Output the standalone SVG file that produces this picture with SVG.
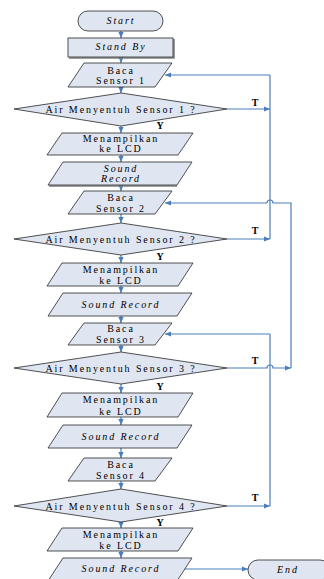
<svg xmlns="http://www.w3.org/2000/svg" width="324" height="579" viewBox="0 0 324 579">
<defs>
<marker id="ah" markerUnits="userSpaceOnUse" markerWidth="6" markerHeight="6" refX="6" refY="3" orient="auto">
<path d="M0,0.4 L6,3 L0,5.6 z" fill="#4a7ebb"/>
</marker>
<style>
.n{fill:#dfe6f2;stroke:#262626;stroke-width:0.8}
.sh{fill:none;stroke:#7f7f7f;stroke-width:1.6}
text{font-family:'Liberation Serif','DejaVu Serif','Times New Roman',serif;font-size:10px;fill:#000000;text-anchor:middle;letter-spacing:1.9px}
.i{font-style:italic}
.b{font-weight:bold;letter-spacing:0px}
.c{fill:none;stroke:#4a7ebb;stroke-width:1.2}
.ca{fill:none;stroke:#4a7ebb;stroke-width:1.2;marker-end:url(#ah)}
</style>
</defs>
<rect width="324" height="579" fill="#ffffff"/>
<g id="connectors">
<path class="ca" d="M121,31 V38"/>
<path class="ca" d="M121,57 V63"/>
<path class="ca" d="M121,87 V93"/>
<path class="ca" d="M121,126 V133"/>
<path class="ca" d="M121,155 V162"/>
<path class="ca" d="M121,185 V191"/>
<path class="ca" d="M121,214 V223"/>
<path class="ca" d="M121,255 V263"/>
<path class="ca" d="M121,286 V293"/>
<path class="ca" d="M121,316 V323"/>
<path class="ca" d="M121,345 V352"/>
<path class="ca" d="M121,384 V393"/>
<path class="ca" d="M121,417 V425"/>
<path class="ca" d="M121,448 V458"/>
<path class="ca" d="M121,481 V489"/>
<path class="ca" d="M121,522 V528"/>
<path class="ca" d="M121,551 V558"/>
<path class="ca" d="M227,109 H270"/>
<path class="ca" d="M227,239 H270"/>
<path class="c" d="M270,239 V75"/>
<path class="ca" d="M270,75 H165"/>
<path class="c" d="M291,368 V203 H273 A3,3 0 0 0 267,203"/>
<path class="ca" d="M267,203 H165"/>
<path class="ca" d="M227,368 H267 A3,3 0 0 1 273,368 H291"/>
<path class="c" d="M270,506 V334"/>
<path class="ca" d="M270,334 H165"/>
<path class="ca" d="M227,506 H270"/>
<path class="ca" d="M185,569 H248"/>
<text class="b" x="255" y="106">T</text>
<text class="b" x="255" y="233.5">T</text>
<text class="b" x="255" y="363.5">T</text>
<text class="b" x="255" y="501">T</text>
<text class="b" x="160" y="128.5">Y</text>
<text class="b" x="160" y="259.5">Y</text>
<text class="b" x="160" y="390">Y</text>
<text class="b" x="160" y="526">Y</text>
</g>
<g id="start">
<rect class="n" x="78" y="11" width="85" height="20" rx="10"/>
<text class="i" x="121" y="24">Start</text>
</g>
<g id="standby">
<path class="sh" d="M174,39 V58 H69"/>
<rect class="n" x="68" y="38" width="105" height="19"/>
<text class="i" x="121" y="50">Stand By</text>
</g>
<g id="baca1">
<polygon class="n" points="84,63 172,63 155,87 68,87"/>
<text x="121" y="73.5">Baca</text>
<text x="121" y="83.5">Sensor 1</text>
</g>
<g id="cek1">
<polygon class="n" points="121,93 227,109 121,126 14,109"/>
<text x="121" y="112.5">Air Menyentuh Sensor 1 ?</text>
</g>
<g id="lcd1">
<polygon class="n" points="62,133 193,133 178,155 47,155"/>
<text x="121" y="141.5">Menampilkan</text>
<text x="121" y="152">ke LCD</text>
</g>
<g id="sound1">
<path class="sh" d="M49,186 H177"/>
<polygon class="n" points="63,162 192,162 177,185 48,185"/>
<text class="i" x="121" y="171.5">Sound</text>
<text class="i" x="121" y="182">Record</text>
</g>
<g id="baca2">
<polygon class="n" points="84,191 172,191 155,214 68,214"/>
<text x="121" y="200.5">Baca</text>
<text x="121" y="211.5">Sensor 2</text>
</g>
<g id="cek2">
<polygon class="n" points="121,223 227,239 121,255 14,239"/>
<text x="121" y="242.5">Air Menyentuh Sensor 2 ?</text>
</g>
<g id="lcd2">
<polygon class="n" points="62,263 193,263 178,286 47,286"/>
<text x="121" y="272.5">Menampilkan</text>
<text x="121" y="283.5">ke LCD</text>
</g>
<g id="sound2">
<polygon class="n" points="63,293 192,293 177,316 48,316"/>
<text class="i" x="121" y="307.5">Sound Record</text>
</g>
<g id="baca3">
<polygon class="n" points="84,323 172,323 155,345 68,345"/>
<text x="121" y="332">Baca</text>
<text x="121" y="342.5">Sensor 3</text>
</g>
<g id="cek3">
<polygon class="n" points="121,352 227,368 121,384 14,368"/>
<text x="121" y="371.5">Air Menyentuh Sensor 3 ?</text>
</g>
<g id="lcd3">
<polygon class="n" points="62,393 193,393 178,417 47,417"/>
<text x="121" y="403">Menampilkan</text>
<text x="121" y="414.5">ke LCD</text>
</g>
<g id="sound3">
<polygon class="n" points="63,425 192,425 177,448 48,448"/>
<text class="i" x="121" y="440">Sound Record</text>
</g>
<g id="baca4">
<polygon class="n" points="84,458 172,458 155,481 68,481"/>
<text x="121" y="468">Baca</text>
<text x="121" y="478.5">Sensor 4</text>
</g>
<g id="cek4">
<polygon class="n" points="121,489 227,506 121,522 14,506"/>
<text x="121" y="509.5">Air Menyentuh Sensor 4 ?</text>
</g>
<g id="lcd4">
<polygon class="n" points="62,528 193,528 178,551 47,551"/>
<text x="121" y="537.5">Menampilkan</text>
<text x="121" y="548.5">ke LCD</text>
</g>
<g id="sound4">
<polygon class="n" points="63,558 192,558 177,581 48,581"/>
<text class="i" x="121" y="572">Sound Record</text>
</g>
<g id="end">
<rect class="n" x="248" y="560" width="82" height="20" rx="10"/>
<text class="i" x="288" y="572.5">End</text>
</g>
</svg>
